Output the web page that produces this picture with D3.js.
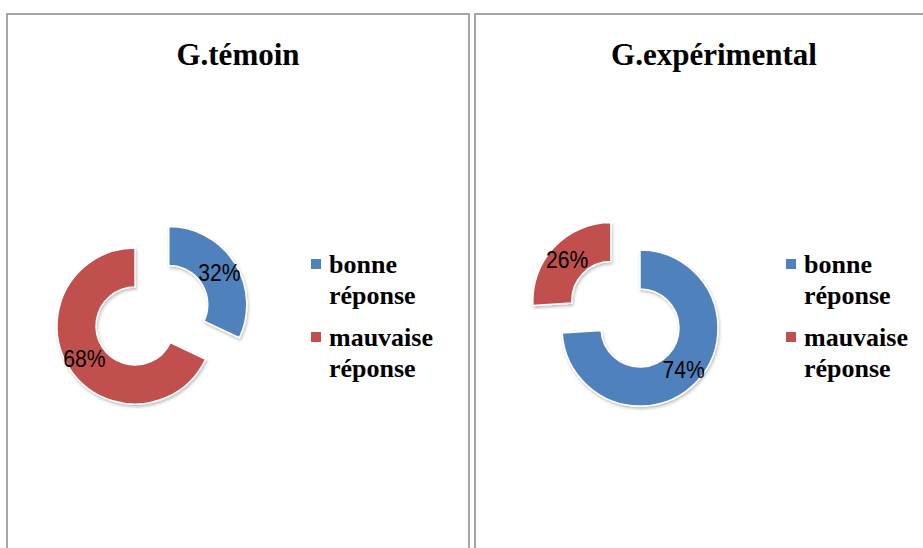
<!DOCTYPE html>
<html lang="fr">
  <head>
    <meta charset="UTF-8">
    <title>G.témoin / G.expérimental</title>
    <style>
      body { margin: 0; background: #fff; }
    </style>
  </head>
  <body>
    <div id="chart"></div>
    <script src="https://d3js.org/d3.v7.js"></script>
    <script>
        // data
        var categories = ["bonne réponse", "mauvaise réponse"];
        var colors = ["#4F81BD", "#C0504D"];
        var titles = ["G.témoin", "G.expérimental"];
        var temoinValues = [32, 68];
        var experimentalValues = [74, 26];
        var explodedSlice = [0, 1]; // which slice is pulled out in each chart

        var width = 923, height = 548;

        var svg = d3.select("#chart")
          .append("svg")
            .attr("width", width)
            .attr("height", height);

        var defs = svg.append("defs");
        defs.append("filter")
            .attr("id", "shadow")
            .attr("x", "-20%").attr("y", "-20%")
            .attr("width", "140%").attr("height", "140%")
          .append("feDropShadow")
            .attr("dx", 1).attr("dy", 2)
            .attr("stdDeviation", 1.5)
            .attr("flood-color", "#000")
            .attr("flood-opacity", 0.25);

        // panel boxes
        var panels = [
          {x: 7, y: 14, w: 462, h: 560, cx: 135, cy: 326, titleX: 238, legendX: 311},
          {x: 475, y: 14, w: 470, h: 560, cx: 640, cy: 328, titleX: 714, legendX: 786}
        ];
        var allValues = [temoinValues, experimentalValues];

        var inner = 39, outer = 78, explode = 40;

        var pie = d3.pie().sort(null).value(function(d){ return d; });
        var arc = d3.arc().innerRadius(inner).outerRadius(outer);
        var labelArc = d3.arc().innerRadius(60).outerRadius(60);

        panels.forEach(function(p, i) {
            svg.append("rect")
                .attr("x", p.x).attr("y", p.y)
                .attr("width", p.w).attr("height", p.h)
                .attr("fill", "none")
                .attr("stroke", "#888")
                .attr("stroke-width", 1.5);

            svg.append("text")
                .attr("x", p.titleX).attr("y", 65)
                .attr("text-anchor", "middle")
                .style("font-family", "'Liberation Serif', 'Times New Roman', serif")
                .style("font-weight", "bold")
                .style("font-size", "31px")
                .text(titles[i]);

            var g = svg.append("g")
                .attr("transform", "translate(" + p.cx + "," + p.cy + ")");

            var slices = g.selectAll(".slice")
                .data(pie(allValues[i]))
                .enter()
                .append("g")
                  .attr("class", "slice")
                  .attr("transform", function(d, j) {
                      if (j !== explodedSlice[i]) return null;
                      var a = (d.startAngle + d.endAngle) / 2;
                      return "translate(" + (Math.sin(a) * explode) + "," + (-Math.cos(a) * explode) + ")";
                  });

            slices.append("path")
                .attr("d", arc)
                .attr("fill", function(d, j){ return colors[j]; })
                .attr("stroke", "#fff")
                .attr("stroke-width", 1.5)
                .attr("filter", "url(#shadow)");

            // Calibri-like narrow labels: larger font squeezed horizontally
            slices.append("text")
                .attr("transform", function(d){ return "translate(" + labelArc.centroid(d) + ") scale(0.88,1)"; })
                .attr("text-anchor", "middle")
                .attr("dy", "0.36em")
                .style("font-family", "'Liberation Sans', Arial, sans-serif")
                .style("font-size", "24px")
                .style("fill", "#000")
                .text(function(d){ return d.data + "%"; });

            // legend
            var legend = svg.append("g")
                .attr("transform", "translate(" + p.legendX + ",0)");
            var items = legend.selectAll(".item")
                .data(categories)
                .enter()
                .append("g")
                  .attr("class", "item")
                  .attr("transform", function(d, j){ return "translate(0," + (259 + j * 73) + ")"; });
            items.append("rect")
                .attr("width", 10).attr("height", 10)
                .attr("fill", function(d, j){ return colors[j]; });
            var txt = items.append("text")
                .attr("x", 18).attr("y", 14)
                .style("font-family", "'Liberation Serif', 'Times New Roman', serif")
                .style("font-weight", "bold")
                .style("font-size", "26px");
            txt.selectAll("tspan")
                .data(function(d){ return d.split(" "); })
                .enter()
                .append("tspan")
                  .attr("x", 18)
                  .attr("dy", function(d, k){ return k === 0 ? 0 : 31; })
                  .text(function(d){ return d; });
        });
    </script>
  </body>
</html>
